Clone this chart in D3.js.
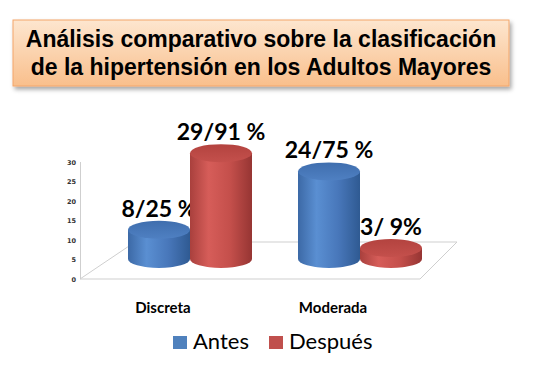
<!DOCTYPE html>
<html>
<head>
<meta charset="utf-8">
<script src="https://cdn.jsdelivr.net/npm/d3@7"></script>
<style>
	html, body { margin: 0; padding: 0; background: #fff; }
	svg { display: block; }
</style>
</head>
<body>
<svg id="chart" width="551" height="388"></svg>
<script>
'use strict';

// Data
var categories = ['Discreta', 'Moderada'];
var seriesNames = ['Antes', 'Después'];
var antesValues = [8, 24];
var despuesValues = [29, 3];
var antesLabels = ['8/25 %', '24/75 %'];
var despuesLabels = ['29/91 %', '3/ 9%'];
var yTicks = [0, 5, 10, 15, 20, 25, 30];
var titleLines = ['Análisis comparativo sobre la clasificación', 'de la hipertensión en los Adultos Mayores'];

var svg = d3.select('#chart');
var defs = svg.append('defs');

// Gradients
var addGrad = function(id, stops, vertical){
	var g = defs.append('linearGradient').attr('id', id)
		.attr('x1', '0%').attr('y1', '0%')
		.attr('x2', vertical ? '0%' : '100%').attr('y2', vertical ? '100%' : '0%');
	stops.forEach(function(s){
		g.append('stop').attr('offset', s[0]).attr('stop-color', s[1]);
	});
};
addGrad('titleFill', [['0%', '#fde6cf'], ['100%', '#f9bf8c']], true);
addGrad('blueSide', [['0%', '#3c69a6'], ['30%', '#5a8fd2'], ['65%', '#4877ba'], ['100%', '#2f5a92']]);
addGrad('redSide', [['0%', '#a9403d'], ['30%', '#d65d59'], ['65%', '#c44f4b'], ['100%', '#963533']]);
addGrad('blueTop', [['0%', '#3f6eae'], ['100%', '#4f80c2']], true);
addGrad('redTop', [['0%', '#b3433f'], ['100%', '#c4504c']], true);

var filt = defs.append('filter').attr('id', 'shadow')
	.attr('x', '-5%').attr('y', '-10%').attr('width', '115%').attr('height', '140%');
filt.append('feDropShadow').attr('dx', 2).attr('dy', 3).attr('stdDeviation', 2)
	.attr('flood-color', '#000').attr('flood-opacity', 0.35);

// Title box
svg.append('rect')
	.attr('x', 13).attr('y', 20).attr('width', 496).attr('height', 66)
	.attr('fill', 'url(#titleFill)')
	.attr('stroke', '#f3a66a').attr('stroke-width', 1)
	.attr('filter', 'url(#shadow)');

svg.selectAll('text.title')
	.data(titleLines)
	.enter()
	.append('text')
		.attr('class', 'title')
		.attr('x', 261)
		.attr('y', function(d, i){ return 47 + i * 28; })
		.attr('text-anchor', 'middle')
		.attr('font-family', 'Liberation Sans, Arial, sans-serif')
		.attr('font-weight', 'bold')
		.attr('font-size', 23)
		.attr('fill', '#000')
		.text(function(d){ return d; });

// Scales
var wallScale = d3.scaleLinear().domain([0, 30]).range([279, 162]);
var barScale = d3.scaleLinear().domain([0, 30]).range([259, 149.5]);
var x0 = d3.scaleBand().domain(categories).range([105, 445]);
var x1 = d3.scaleBand().domain(seriesNames).range([23, 147]);
var ry = 9;

// Wall and floor
var floorBackY = 242;
var grid = svg.append('g').attr('fill', 'none').attr('stroke', '#cfcfcf').attr('stroke-width', 1);
grid.append('line')
	.attr('x1', 80.5).attr('x2', 80.5)
	.attr('y1', wallScale(30)).attr('y2', wallScale(0));
grid.append('path')
	.attr('d', 'M80,' + wallScale(0) + 'L420,' + wallScale(0) + 'L457,' + floorBackY + 'L135,' + floorBackY + 'Z');

// Y axis labels
var axis = d3.axisLeft(wallScale).tickValues(yTicks).tickSize(0).tickPadding(0);
var axisG = svg.append('g').attr('transform', 'translate(76,0)').call(axis);
axisG.select('.domain').remove();
axisG.selectAll('text')
	.attr('font-family', 'DejaVu Sans, sans-serif')
	.attr('font-size', 6.5)
	.attr('font-weight', 'bold')
	.attr('fill', '#333');

// Cylinders
var rows = [];
categories.forEach(function(c, i){
	rows.push({cat: c, s: 'Antes', v: antesValues[i], label: antesLabels[i], side: 'url(#blueSide)', top: 'url(#blueTop)'});
	rows.push({cat: c, s: 'Después', v: despuesValues[i], label: despuesLabels[i], side: 'url(#redSide)', top: 'url(#redTop)'});
});

var bars = svg.append('g').selectAll('g.cyl')
	.data(rows)
	.enter()
	.append('g')
	.attr('class', 'cyl');

bars.each(function(d){
	var g = d3.select(this);
	var left = x0(d.cat) + x1(d.s);
	var w = x1.bandwidth();
	var rx = w / 2;
	var yTop = barScale(d.v);
	var yBot = barScale(0);
	g.append('path')
		.attr('d', 'M' + left + ',' + yTop +
			'L' + left + ',' + yBot +
			'A' + rx + ',' + ry + ' 0 0 0 ' + (left + w) + ',' + yBot +
			'L' + (left + w) + ',' + yTop + 'Z')
		.attr('fill', d.side);
	g.append('ellipse')
		.attr('cx', left + rx).attr('cy', yTop)
		.attr('rx', rx).attr('ry', ry)
		.attr('fill', d.top);
	g.append('text')
		.attr('x', left + rx)
		.attr('y', yTop - ry - 4)
		.attr('text-anchor', 'middle')
		.attr('font-family', 'Lato, sans-serif')
		.attr('font-weight', 'bold')
		.attr('font-size', 23)
		.attr('fill', '#000')
		.text(d.label);
});

// Category labels
svg.selectAll('text.cat')
	.data(categories)
	.enter()
	.append('text')
		.attr('class', 'cat')
		.attr('x', function(d){ return x0(d) + x0.bandwidth() / 2 - 27; })
		.attr('y', 313)
		.attr('text-anchor', 'middle')
		.attr('font-family', 'Lato, sans-serif')
		.attr('font-weight', 'bold')
		.attr('font-size', 15)
		.attr('fill', '#000')
		.text(function(d){ return d; });

// Legend
var legendColors = ['#4f81bd', '#c0504d'];
var legendX = [173, 269];
var legend = svg.selectAll('g.legend')
	.data(seriesNames)
	.enter()
	.append('g')
	.attr('class', 'legend')
	.attr('transform', function(d, i){ return 'translate(' + legendX[i] + ',0)'; });
legend.append('rect')
	.attr('x', 0).attr('y', 336).attr('width', 14).attr('height', 13)
	.attr('fill', function(d, i){ return legendColors[i]; });
legend.append('text')
	.attr('x', 20).attr('y', 349)
	.attr('font-family', 'Lato, sans-serif')
	.attr('font-size', 22)
	.attr('fill', '#000')
	.text(function(d){ return d; });
</script>
</body>
</html>
